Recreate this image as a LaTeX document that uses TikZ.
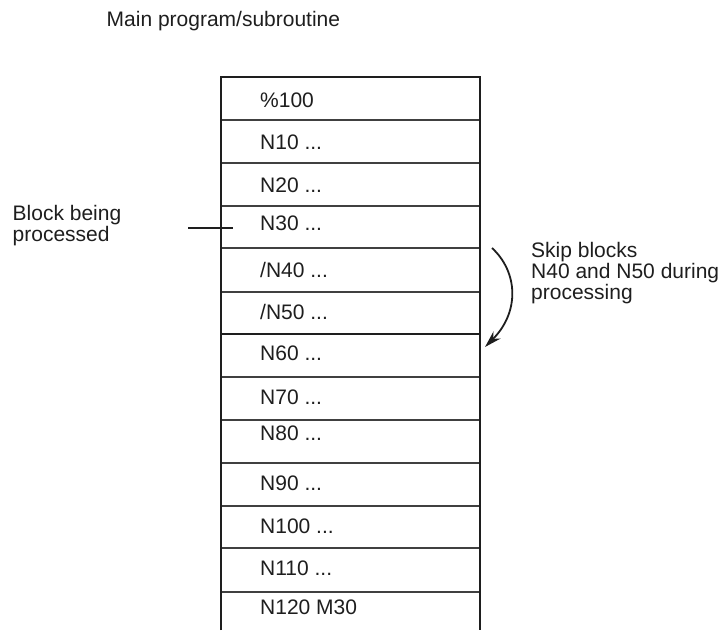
\documentclass[tikz,border=0pt]{standalone}
\usepackage{fontspec}
\setmainfont{Liberation Sans}
\usepackage{xcolor}
\usetikzlibrary{arrows.meta, positioning}
\definecolor{ink}{HTML}{1E1E1E}
\definecolor{rowline}{HTML}{404040}

\begin{document}
\begin{tikzpicture}[x=1pt, y=-1pt, font=\fontsize{21}{21}\selectfont, text=ink,
    blocktext/.style={anchor=base west, inner sep=0pt},
    note/.style={anchor=north west, align=left, inner sep=0pt}]
        \useasboundingbox (0,0) rectangle (725,630);
        % program frame, open at the bottom
        \draw[ink, line width=2.4pt] (221,630) -- (221,77) -- (480,77) -- (480,630);
        \foreach \y in {120,163,206,248,292,377,420,463,506,548,592}
            \draw[rowline, line width=1.4pt] (222,\y) -- (479,\y);
        \draw[ink, line width=2.2pt] (222,334) -- (479,334);
        % blocks
        \node[blocktext] (p100) at (260,107.5) {\%100};
        \node[blocktext] (n10) at (260,149.5) {N10 ...};
        \node[blocktext] (n20) at (260,192.5) {N20 ...};
        \node[blocktext] (n30) at (260,230.5) {N30 ...};
        \node[blocktext] (n40) at (260,277.5) {/N40 ...};
        \node[blocktext] (n50) at (260,319.5) {/N50 ...};
        \node[blocktext] (n60) at (260,360.5) {N60 ...};
        \node[blocktext] (n70) at (260,404.5) {N70 ...};
        \node[blocktext] (n80) at (260,440.5) {N80 ...};
        \node[blocktext] (n90) at (260,490.5) {N90 ...};
        \node[blocktext] (n100) at (260,533.5) {N100 ...};
        \node[blocktext] (n110) at (260,575.5) {N110 ...};
        \node[blocktext] (n120) at (260,614.5) {N120 M30};
        % labels
        \node[note] (title) at (106.5,11) {Main program/subroutine};
        \node[note] (current) at (12.5,205) {Block being\\processed};
        \node[note] (skip) at (531,242) {Skip blocks\\N40 and N50 during\\processing};
        % marker and skip arrow
        \coordinate (mk1) at (188,228); \coordinate (mk2) at (233,228);
        \draw[ink, line width=2.2pt] (mk1) -- (mk2);
        \coordinate (sk1) at (492,248); \coordinate (sk2) at (485,347);
        \draw[ink, line width=1.8pt, -{Stealth[length=17pt, width=10pt]}]
            (sk1) .. controls (518,272) and (520,312) .. (sk2);
    \end{tikzpicture}
\end{document}
